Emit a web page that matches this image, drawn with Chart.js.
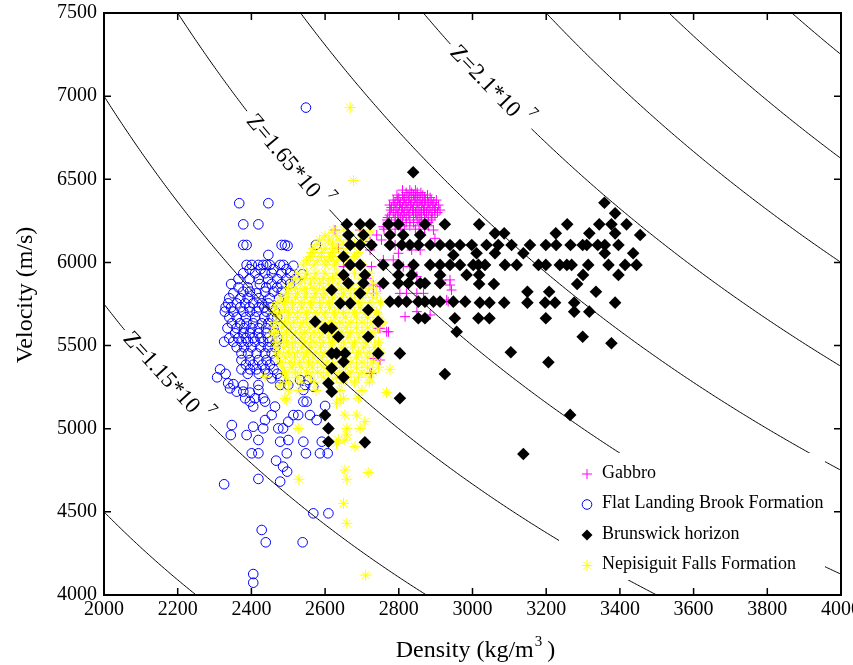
<!DOCTYPE html>
<html>
<head>
<meta charset="utf-8">
<script src="https://cdn.jsdelivr.net/npm/chart.js@4/dist/chart.umd.min.js"></script>
<style>
  html, body { margin: 0; padding: 0; background: #fff; }
</style>
</head>
<body>
<canvas id="impedance-plot" width="853" height="665"></canvas>
<script>
// Acoustic impedance levels (Z = density * velocity) drawn as contours
const impedanceLevels = [0.9e7, 1.15e7, 1.4e7, 1.65e7, 1.9e7, 2.15e7, 2.4e7, 2.65e7, 2.9e7]

// inline contour labels: which level, and the density where the label sits
const contourLabels = [
  { level: 1.15e7, density: 2168, text: 'Z=1.15*10', exp: '7' },
  { level: 1.65e7, density: 2498, text: 'Z=1.65*10', exp: '7' },
  { level: 2.15e7, density: 3047, text: 'Z=2.1*10', exp: '7' },
]

// [density (kg/m3), velocity (m/s)]
const gabbro = [
  [2810, 6435], [2830, 6435], [2845, 6435],
  [2820, 6420], [2835, 6420], [2850, 6420], [2860, 6420],
  [2795, 6405], [2810, 6405], [2825, 6405], [2840, 6405], [2850, 6405], [2865, 6405], [2878, 6405],
  [2800, 6390], [2815, 6390], [2830, 6390], [2845, 6390], [2855, 6390], [2870, 6390], [2885, 6390],
  [2785, 6375], [2797, 6375], [2812, 6375], [2827, 6375], [2842, 6375], [2858, 6375], [2872, 6375], [2888, 6375], [2902, 6375],
  [2790, 6360], [2805, 6360], [2820, 6360], [2835, 6360], [2850, 6360], [2865, 6360], [2880, 6360], [2895, 6360],
  [2775, 6345], [2787, 6345], [2802, 6345], [2817, 6345], [2832, 6345], [2847, 6345], [2862, 6345], [2877, 6345], [2892, 6345], [2908, 6345],
  [2780, 6330], [2795, 6330], [2810, 6330], [2825, 6330], [2840, 6330], [2855, 6330], [2870, 6330], [2885, 6330], [2900, 6330],
  [2778, 6315], [2792, 6315], [2807, 6315], [2822, 6315], [2837, 6315], [2852, 6315], [2867, 6315], [2882, 6315], [2897, 6315], [2912, 6315],
  [2785, 6300], [2800, 6300], [2815, 6300], [2830, 6300], [2845, 6300], [2860, 6300], [2875, 6300], [2890, 6300], [2905, 6300],
  [2775, 6285], [2797, 6285], [2812, 6285], [2827, 6285], [2847, 6285], [2862, 6285], [2880, 6285], [2898, 6285],
  [2770, 6270], [2790, 6270], [2805, 6270], [2820, 6270], [2840, 6270], [2855, 6270], [2870, 6270], [2890, 6270],
  [2768, 6255], [2790, 6255], [2810, 6255], [2830, 6255], [2850, 6255], [2870, 6255], [2888, 6255],
  [2780, 6240], [2800, 6240], [2820, 6240], [2840, 6240], [2860, 6240], [2880, 6240],
  [2775, 6220], [2805, 6220], [2830, 6220], [2855, 6220], [2880, 6220],
  [2760, 6200], [2790, 6200], [2815, 6200], [2845, 6200], [2870, 6200],
  [2627, 6195], [2695, 6195], [2758, 6215], [2722, 6125], [2894, 6195], [2898, 6145],
  [2740, 6165], [2753, 6135], [2790, 6105], [2835, 6075], [2858, 6075], [2722, 6075],
  [2758, 6015], [2785, 6015], [2799, 6055], [2812, 5975], [2830, 5975], [2636, 6085],
  [2650, 5975], [2659, 5895], [2726, 5975], [2713, 5905], [2731, 5814],
  [2849, 5915], [2912, 5915], [2939, 5895], [2916, 5894], [2943, 5834], [2930, 5774],
  [2731, 5864], [2749, 5854], [2803, 5814], [2821, 5814], [2849, 5814], [2867, 5814],
  [2912, 5875], [2939, 5864], [2934, 5764], [2817, 5674], [2849, 5704], [2885, 5684],
  [2772, 5583], [2749, 5604], [2744, 5604], [2767, 5583],
  [2731, 5423], [2749, 5413], [2722, 5333], [2726, 5333],
]

const flatLandingBrook = [
  [2548, 6931],
  [2367, 6356], [2446, 6356], [2378, 6229], [2419, 6229],
  [2378, 6105], [2387, 6105], [2482, 6105], [2491, 6105], [2498, 6100], [2575, 6105],
  [2446, 6045],
  [2387, 5985], [2401, 5985], [2419, 5985], [2432, 5985], [2441, 5985], [2450, 5985], [2478, 5985], [2487, 5985], [2514, 5980],
  [2395, 5960], [2425, 5960], [2460, 5960], [2495, 5960],
  [2378, 5935], [2410, 5935], [2437, 5935], [2455, 5935], [2482, 5935], [2505, 5935], [2538, 5929],
  [2365, 5900], [2395, 5900], [2420, 5900], [2445, 5900], [2470, 5900], [2495, 5900], [2520, 5900],
  [2345, 5870], [2423, 5870], [2455, 5870], [2482, 5870], [2505, 5870],
  [2365, 5850], [2390, 5850], [2440, 5850], [2470, 5850],
  [2378, 5824], [2396, 5824], [2437, 5824], [2460, 5824], [2482, 5824], [2351, 5814], [2414, 5814],
  [2340, 5785], [2370, 5785], [2390, 5785], [2420, 5785], [2450, 5785], [2475, 5785],
  [2337, 5754], [2360, 5754], [2383, 5754], [2405, 5754], [2428, 5754], [2446, 5754],
  [2330, 5730], [2345, 5730], [2370, 5730], [2395, 5730], [2420, 5730], [2435, 5730], [2455, 5730],
  [2328, 5704], [2351, 5704], [2378, 5704], [2396, 5704], [2414, 5704], [2441, 5704], [2464, 5704],
  [2340, 5670], [2360, 5670], [2385, 5670], [2410, 5670], [2435, 5670], [2455, 5670], [2470, 5670],
  [2347, 5634], [2369, 5634], [2387, 5634], [2405, 5634], [2428, 5634], [2446, 5634],
  [2335, 5605], [2360, 5605], [2380, 5605], [2400, 5605], [2420, 5605], [2440, 5605], [2460, 5605],
  [2356, 5574], [2378, 5574], [2396, 5574], [2419, 5574], [2441, 5574], [2464, 5574],
  [2340, 5545], [2365, 5545], [2385, 5545], [2405, 5545], [2425, 5545], [2445, 5545], [2470, 5545],
  [2326, 5523], [2351, 5523], [2373, 5523], [2391, 5523], [2410, 5523], [2432, 5523], [2450, 5523], [2468, 5523],
  [2360, 5490], [2380, 5490], [2400, 5490], [2425, 5490], [2445, 5490], [2465, 5490],
  [2373, 5453], [2391, 5453], [2414, 5453], [2437, 5453], [2455, 5453],
  [2373, 5413], [2396, 5413], [2419, 5413], [2441, 5413], [2464, 5413],
  [2385, 5385], [2405, 5385], [2430, 5385], [2450, 5385],
  [2315, 5357], [2373, 5357], [2396, 5357], [2414, 5357], [2437, 5357], [2460, 5357],
  [2330, 5330], [2390, 5330], [2420, 5330], [2445, 5330], [2470, 5330],
  [2307, 5309], [2455, 5303], [2478, 5303],
  [2337, 5273], [2351, 5268], [2378, 5263], [2419, 5263], [2478, 5263], [2500, 5263],
  [2342, 5243], [2360, 5223], [2378, 5223], [2396, 5217], [2419, 5233],
  [2383, 5183], [2410, 5183], [2432, 5183],
  [2532, 5293], [2554, 5293], [2541, 5233], [2568, 5253], [2546, 5263],
  [2396, 5163], [2437, 5163], [2405, 5133], [2464, 5133], [2541, 5163], [2550, 5163], [2600, 5137],
  [2347, 5022], [2344, 4962], [2387, 4962], [2405, 5012], [2437, 5052], [2455, 5082],
  [2432, 5002], [2473, 5002], [2486, 5002], [2500, 5042], [2514, 5082], [2527, 5082], [2559, 5082], [2577, 5052],
  [2419, 4932], [2478, 4922], [2500, 4932], [2541, 4922], [2591, 4922],
  [2401, 4852], [2419, 4852], [2496, 4852], [2548, 4852], [2586, 4852], [2607, 4852],
  [2467, 4808], [2486, 4772], [2497, 4742],
  [2326, 4666], [2419, 4698], [2478, 4682],
  [2568, 4491], [2609, 4491],
  [2428, 4391], [2439, 4317], [2539, 4317],
  [2405, 4126], [2405, 4074],
]

const brunswick = [
  [2839, 6542], [3358, 6359], [3387, 6295],
  [2659, 6230], [2695, 6230], [2722, 6230], [2772, 6230], [2799, 6230], [2871, 6230], [2925, 6230],
  [3018, 6229], [3257, 6229], [3344, 6229], [3377, 6229], [3418, 6229],
  [2663, 6165], [2704, 6165], [2776, 6165], [2812, 6165], [2858, 6165],
  [3061, 6175], [3086, 6175], [3226, 6175], [3317, 6175], [3387, 6175], [3455, 6165],
  [2668, 6105], [2695, 6105], [2726, 6105], [2776, 6105], [2808, 6105], [2830, 6105], [2853, 6105], [2885, 6105],
  [2912, 6105], [2939, 6105], [2966, 6105], [2998, 6105], [3038, 6105], [3070, 6105], [3106, 6105], [3156, 6105],
  [3199, 6105], [3227, 6105], [3266, 6105], [3299, 6105], [3310, 6105], [3340, 6105], [3359, 6105], [3396, 6105],
  [2650, 6034], [2948, 6045], [3011, 6055], [3061, 6055], [3138, 6055], [3359, 6055], [3436, 6055],
  [2668, 5985], [2695, 5985], [2758, 5985], [2799, 5985], [2840, 5985], [2885, 5985], [2912, 5985], [2939, 5985],
  [2966, 5985], [3002, 5985], [3016, 5985], [3034, 5985], [3088, 5985], [3120, 5985], [3179, 5985], [3199, 5985],
  [3237, 5985], [3256, 5985], [3269, 5985], [3314, 5985], [3369, 5985], [3414, 5985], [3445, 5985],
  [2650, 5925], [2708, 5925], [2799, 5925], [2835, 5925], [2912, 5925], [2984, 5925], [3018, 5925], [3300, 5925], [3396, 5925],
  [2663, 5875], [2704, 5875], [2758, 5875], [2799, 5875], [2826, 5875], [2858, 5875], [2871, 5875], [2912, 5875],
  [3018, 5870], [3058, 5870], [3284, 5870],
  [2618, 5834], [2695, 5814], [3149, 5824], [3208, 5824], [3335, 5824],
  [2641, 5754], [2668, 5754], [2776, 5764], [2799, 5764], [2821, 5764], [2853, 5764], [2871, 5764], [2894, 5764],
  [2912, 5764], [2948, 5764], [2980, 5764], [3020, 5758], [3046, 5758], [3086, 5758], [3149, 5758], [3197, 5758],
  [3224, 5758], [3276, 5758], [3387, 5758],
  [2717, 5714], [3276, 5704], [3317, 5704],
  [2573, 5644], [2744, 5644], [2853, 5664], [2871, 5664], [2952, 5664], [3016, 5664], [3046, 5664], [3199, 5664],
  [2600, 5604], [2618, 5604], [2957, 5583], [2636, 5553], [2717, 5553], [3299, 5553], [3377, 5514],
  [3104, 5460], [2618, 5453], [2631, 5453], [2654, 5453], [2744, 5453], [2803, 5453],
  [2650, 5403], [3206, 5400], [2618, 5363], [2650, 5309], [2925, 5329], [2609, 5273], [2618, 5223],
  [2803, 5183], [2600, 5082], [3265, 5083], [2609, 5002], [2609, 4922], [2708, 4918], [3138, 4848],
]

const nepisiguit = [
  [2668, 6931], [2677, 6492],
  [2622, 6195], [2650, 6195], [2700, 6195], [2722, 6195],
  [2600, 6160], [2630, 6160], [2665, 6160], [2710, 6160],
  [2585, 6135], [2610, 6135], [2640, 6135], [2700, 6135],
  [2580, 6110], [2620, 6110], [2650, 6110], [2680, 6110],
  [2570, 6085], [2600, 6085], [2630, 6085], [2660, 6085],
  [2565, 6060], [2590, 6060], [2620, 6060], [2650, 6060], [2690, 6060],
  [2560, 6035], [2590, 6035], [2615, 6035], [2645, 6035], [2680, 6035],
  [2550, 6010], [2580, 6010], [2605, 6010], [2630, 6010], [2665, 6010],
  [2541, 5985], [2570, 5985], [2600, 5985], [2625, 5985], [2660, 5985], [2700, 5985],
  [2525, 5935], [2550, 5935], [2575, 5935], [2600, 5935], [2630, 5935], [2680, 5935], [2720, 5935],
  [2520, 5905], [2545, 5905], [2570, 5905], [2595, 5905], [2620, 5905], [2650, 5905], [2700, 5905],
  [2509, 5875], [2532, 5875], [2560, 5875], [2585, 5875], [2610, 5875], [2635, 5875], [2660, 5875], [2700, 5875], [2730, 5875],
  [2500, 5845], [2520, 5845], [2545, 5845], [2570, 5845], [2595, 5845], [2620, 5845], [2645, 5845], [2670, 5845], [2695, 5845], [2720, 5845],
  [2495, 5814], [2525, 5814], [2550, 5814], [2575, 5814], [2600, 5814], [2625, 5814], [2650, 5814], [2680, 5814], [2710, 5814], [2740, 5814],
  [2480, 5790], [2500, 5790], [2520, 5790], [2545, 5790], [2570, 5790], [2595, 5790], [2620, 5790], [2645, 5790], [2670, 5790], [2700, 5790], [2730, 5790],
  [2470, 5760], [2490, 5760], [2510, 5760], [2535, 5760], [2560, 5760], [2585, 5760], [2610, 5760], [2635, 5760], [2660, 5760], [2690, 5760], [2720, 5760], [2750, 5760],
  [2465, 5730], [2490, 5730], [2512, 5730], [2537, 5730], [2562, 5730], [2587, 5730], [2612, 5730], [2637, 5730], [2665, 5730], [2695, 5730], [2725, 5730],
  [2462, 5700], [2480, 5700], [2500, 5700], [2525, 5700], [2550, 5700], [2575, 5700], [2600, 5700], [2625, 5700], [2650, 5700], [2680, 5700], [2710, 5700], [2740, 5700],
  [2470, 5670], [2500, 5670], [2525, 5670], [2550, 5670], [2575, 5670], [2600, 5670], [2627, 5670], [2655, 5670], [2685, 5670], [2715, 5670], [2745, 5670],
  [2465, 5640], [2490, 5640], [2515, 5640], [2540, 5640], [2565, 5640], [2590, 5640], [2615, 5640], [2640, 5640], [2670, 5640], [2700, 5640], [2730, 5640], [2755, 5640],
  [2460, 5610], [2482, 5610], [2507, 5610], [2532, 5610], [2557, 5610], [2582, 5610], [2607, 5610], [2632, 5610], [2657, 5610], [2685, 5610], [2715, 5610], [2745, 5610],
  [2470, 5580], [2495, 5580], [2520, 5580], [2545, 5580], [2570, 5580], [2595, 5580], [2620, 5580], [2645, 5580], [2670, 5580], [2700, 5580], [2730, 5580],
  [2462, 5550], [2485, 5550], [2510, 5550], [2535, 5550], [2560, 5550], [2585, 5550], [2610, 5550], [2635, 5550], [2662, 5550], [2692, 5550], [2725, 5550],
  [2470, 5520], [2495, 5520], [2520, 5520], [2545, 5520], [2570, 5520], [2595, 5520], [2620, 5520], [2650, 5520], [2680, 5520], [2710, 5520], [2745, 5520],
  [2465, 5490], [2487, 5490], [2512, 5490], [2537, 5490], [2562, 5490], [2587, 5490], [2615, 5490], [2645, 5490], [2675, 5490], [2705, 5490], [2735, 5490],
  [2475, 5460], [2500, 5460], [2525, 5460], [2550, 5460], [2575, 5460], [2600, 5460], [2630, 5460], [2660, 5460], [2690, 5460], [2720, 5460], [2750, 5460],
  [2470, 5430], [2492, 5430], [2517, 5430], [2542, 5430], [2567, 5430], [2592, 5430], [2620, 5430], [2655, 5430], [2685, 5430], [2715, 5430], [2742, 5430],
  [2480, 5400], [2505, 5400], [2530, 5400], [2555, 5400], [2580, 5400], [2605, 5400], [2640, 5400], [2670, 5400], [2700, 5400], [2730, 5400],
  [2485, 5370], [2510, 5370], [2535, 5370], [2565, 5370], [2595, 5370], [2625, 5370], [2655, 5370], [2685, 5370], [2715, 5370], [2745, 5370],
  [2490, 5340], [2520, 5340], [2550, 5340], [2580, 5340], [2610, 5340], [2640, 5340], [2670, 5340], [2700, 5340], [2730, 5340],
  [2495, 5310], [2525, 5310], [2560, 5310], [2595, 5310], [2630, 5310], [2660, 5310], [2690, 5310], [2720, 5310],
  [2500, 5280], [2535, 5280], [2570, 5280], [2610, 5280], [2645, 5280], [2680, 5280], [2720, 5280],
  [2530, 5230], [2575, 5230], [2640, 5230], [2700, 5230],
  [2437, 5313], [2478, 5263], [2500, 5233], [2491, 5183], [2496, 5173], [2455, 5574],
  [2767, 5217], [2776, 5357], [2650, 5183], [2690, 5183], [2641, 5173], [2631, 5153],
  [2654, 5082], [2686, 5082], [2708, 5042], [2659, 5002], [2695, 5002], [2527, 5002],
  [2659, 4962], [2654, 4932], [2636, 4932], [2631, 4912], [2681, 4892],
  [2654, 4752], [2659, 4696], [2717, 4736], [2529, 4696], [2650, 4551], [2659, 4431], [2710, 4120],
]

const LABEL_FONT = '23px "Liberation Serif"'
const SUP_FONT = '15px "Liberation Serif"'
const SUP_GAP = 7

Chart.defaults.font.family = '"Liberation Serif", "Times New Roman", serif'
Chart.defaults.color = '#000'

const toXY = (pts) => pts.map(([d, v]) => ({ x: d, y: v }))

// pixel geometry of an inline contour label, taken from the scales
function labelGeometry(chart, lab) {
  const { x, y } = chart.scales
  const cx = x.getPixelForValue(lab.density)
  const cy = y.getPixelForValue(lab.level / lab.density)
  const dx = x.getPixelForValue(lab.density + 20) - cx
  const dy = y.getPixelForValue(lab.level / (lab.density + 20)) - cy
  const ctx = chart.ctx
  ctx.save()
  ctx.font = LABEL_FONT
  const w1 = ctx.measureText(lab.text).width
  ctx.font = SUP_FONT
  const w2 = ctx.measureText(lab.exp).width
  ctx.restore()
  const total = w1 + SUP_GAP + w2
  return { cx, cy, angle: Math.atan2(dy, dx), w1, total, halfLen: total / 2 + 6 }
}

// break a contour where its label is written
function contourSegmentColor(c, level) {
  const lab = contourLabels.find((l) => l.level === level)
  if (!lab) return '#000'
  const g = labelGeometry(c.chart, lab)
  const mx = (c.p0.x + c.p1.x) / 2
  const my = (c.p0.y + c.p1.y) / 2
  return Math.hypot(mx - g.cx, my - g.cy) < g.halfLen ? 'rgba(0,0,0,0)' : '#000'
}

const contourDatasets = impedanceLevels.map((level) => {
  const pts = []
  for (let d = 2000; d <= 4000; d += 4) pts.push({ x: d, y: level / d })
  return {
    label: 'Z',
    data: pts,
    showLine: true,
    borderColor: '#000',
    borderWidth: 1,
    pointRadius: 0,
    order: 0,
    segment: { borderColor: (c) => contourSegmentColor(c, level) },
  }
})

const series = [
  { label: 'Gabbro', data: toXY(gabbro), pointStyle: 'cross', pointRadius: 5, borderColor: '#ff00ff', backgroundColor: '#ff00ff', pointBorderWidth: 1, order: 4 },
  { label: 'Flat Landing Brook Formation', data: toXY(flatLandingBrook), pointStyle: 'circle', pointRadius: 4.8, borderColor: '#0000ff', backgroundColor: 'rgba(0,0,0,0)', pointBorderWidth: 1, order: 3 },
  { label: 'Brunswick horizon', data: toXY(brunswick), pointStyle: 'rectRot', pointRadius: 6.3, borderColor: '#000', backgroundColor: '#000', pointBorderWidth: 0, order: 1 },
  { label: 'Nepisiguit Falls Formation', data: toXY(nepisiguit), pointStyle: 'star', pointRadius: 5.5, borderColor: '#ffff00', backgroundColor: '#ffff00', pointBorderWidth: 1, order: 2 },
]

function drawMarker(ctx, ds, px, py) {
  ctx.save()
  ctx.strokeStyle = ds.borderColor
  ctx.fillStyle = ds.backgroundColor
  ctx.lineWidth = ds.pointBorderWidth
  Chart.helpers.drawPoint(ctx, { pointStyle: ds.pointStyle, radius: ds.pointRadius, rotation: 0, borderWidth: ds.pointBorderWidth }, px, py)
  ctx.restore()
}

const plotDecorations = {
  id: 'plotDecorations',
  afterDatasetsDraw(chart) {
    const { ctx, chartArea: area, scales } = chart

    // contour labels
    contourLabels.forEach((lab) => {
      const g = labelGeometry(chart, lab)
      ctx.save()
      ctx.translate(g.cx, g.cy)
      ctx.rotate(g.angle)
      ctx.fillStyle = '#000'
      ctx.textBaseline = 'middle'
      ctx.textAlign = 'left'
      ctx.font = LABEL_FONT
      ctx.fillText(lab.text, -g.total / 2, 0)
      ctx.font = SUP_FONT
      ctx.fillText(lab.exp, -g.total / 2 + g.w1 + SUP_GAP, -13)
      ctx.restore()
    })

    // legend box, lower right inside the axes
    const boxRight = area.right - 16
    const boxBottom = area.bottom - 15
    const boxW = 266
    const boxH = 127
    const left = boxRight - boxW
    const top = boxBottom - boxH
    ctx.save()
    ctx.fillStyle = '#fff'
    ctx.fillRect(left, top, boxW, boxH)
    ctx.font = '18px "Liberation Serif"'
    ctx.textBaseline = 'middle'
    ctx.textAlign = 'left'
    series.forEach((ds, i) => {
      const rowY = top + 21 + i * 30.5
      drawMarker(ctx, { ...ds, pointRadius: Math.min(ds.pointRadius, 5.5) }, left + 28, rowY)
      ctx.fillStyle = '#000'
      ctx.fillText(ds.label, left + 43, rowY - 1)
    })
    ctx.restore()

    // box frame with inward ticks
    ctx.save()
    ctx.strokeStyle = '#000'
    ctx.lineWidth = 2
    ctx.strokeRect(area.left, area.top, area.right - area.left, area.bottom - area.top)
    ctx.lineWidth = 1.5
    ctx.beginPath()
    scales.x.ticks.forEach((t) => {
      const px = scales.x.getPixelForValue(t.value)
      ctx.moveTo(px, area.bottom)
      ctx.lineTo(px, area.bottom - 7)
      ctx.moveTo(px, area.top)
      ctx.lineTo(px, area.top + 7)
    })
    scales.y.ticks.forEach((t) => {
      const py = scales.y.getPixelForValue(t.value)
      ctx.moveTo(area.left, py)
      ctx.lineTo(area.left + 7, py)
      ctx.moveTo(area.right, py)
      ctx.lineTo(area.right - 7, py)
    })
    ctx.stroke()
    ctx.restore()
  },
  afterDraw(chart) {
    const { ctx, chartArea: area } = chart
    ctx.save()
    ctx.fillStyle = '#000'
    // x title with superscript
    const main = 'Density (kg/m'
    const tail = ' )'
    ctx.font = '24px "Liberation Serif"'
    const wMain = ctx.measureText(main).width
    const wTail = ctx.measureText(tail).width
    ctx.font = '15px "Liberation Serif"'
    const wSup = ctx.measureText('3').width
    const total = wMain + wSup + wTail
    const startX = (area.left + area.right) / 2 - total / 2 + 3
    const baseY = 657
    ctx.textAlign = 'left'
    ctx.textBaseline = 'alphabetic'
    ctx.font = '24px "Liberation Serif"'
    ctx.fillText(main, startX, baseY)
    ctx.fillText(tail, startX + wMain + wSup, baseY)
    ctx.font = '15px "Liberation Serif"'
    ctx.fillText('3', startX + wMain + 1, baseY - 11)
    // y title
    ctx.translate(32, (area.top + area.bottom) / 2 - 9)
    ctx.rotate(-Math.PI / 2)
    ctx.textAlign = 'center'
    ctx.font = '24px "Liberation Serif"'
    ctx.fillText('Velocity (m/s)', 0, 0)
    ctx.restore()
  },
}

new Chart(document.getElementById('impedance-plot'), {
  type: 'scatter',
  data: { datasets: [...series, ...contourDatasets] },
  options: {
    responsive: false,
    devicePixelRatio: 1,
    animation: false,
    layout: { autoPadding: false, padding: { top: 13, right: 12, left: 0, bottom: 0 } },
    plugins: { legend: { display: false }, tooltip: { enabled: false } },
    scales: {
      x: {
        type: 'linear',
        min: 2000,
        max: 4000,
        grid: { display: false, drawTicks: false },
        border: { display: false },
        ticks: { stepSize: 200, padding: 3, color: '#000', font: { size: 20 }, callback: (v) => String(v) },
        afterFit: (scale) => {
          scale.height = 70
          scale.paddingLeft = 0
          scale.paddingRight = 0
        },
      },
      y: {
        type: 'linear',
        min: 4000,
        max: 7500,
        grid: { display: false, drawTicks: false },
        border: { display: false },
        ticks: { stepSize: 500, padding: 7, color: '#000', font: { size: 20 }, callback: (v) => String(v) },
        afterFit: (scale) => {
          scale.width = 104
          scale.paddingTop = 0
          scale.paddingBottom = 0
        },
      },
    },
  },
  plugins: [plotDecorations],
})
</script>
</body>
</html>
